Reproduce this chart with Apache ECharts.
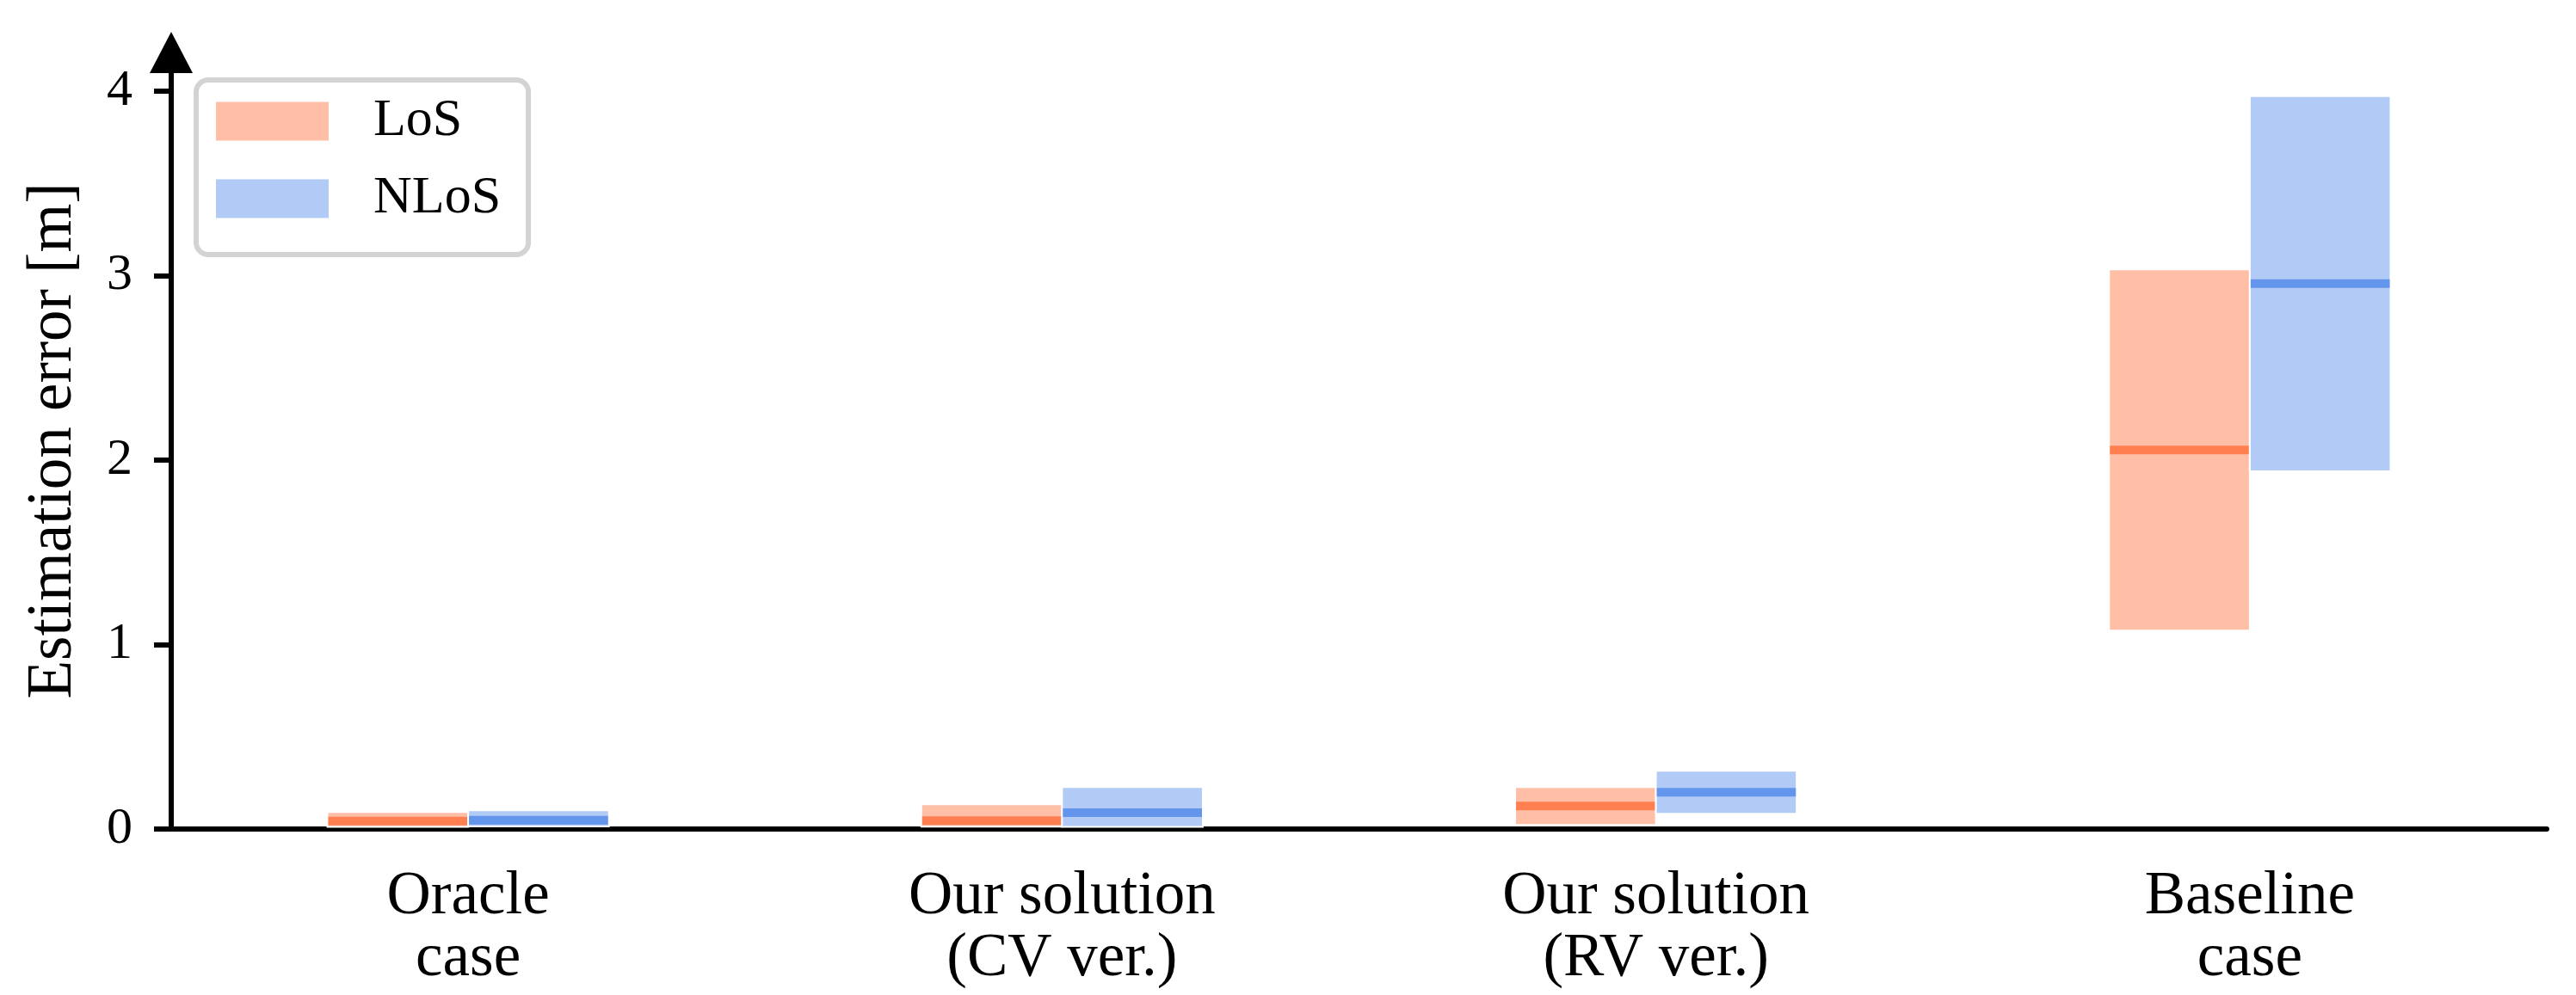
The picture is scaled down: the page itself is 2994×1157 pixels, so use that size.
<!DOCTYPE html>
<html>
<head>
<meta charset="utf-8">
<script src="https://cdn.jsdelivr.net/npm/echarts@6/dist/echarts.min.js"></script>
<style>
  html, body { margin: 0; padding: 0; background: #fff; }
  #chart { width: 2994px; height: 1157px; }
</style>
</head>
<body>
<div id="chart"></div>
<script>
// categories on the x axis
const categories = ["Oracle\ncase", "Our solution\n(CV ver.)", "Our solution\n(RV ver.)", "Baseline\ncase"];
const yTicks = [0, 1, 2, 3, 4];

// box values per category: lower quartile, median, upper quartile
const losQ1 = [0.012, 0.013, 0.022, 1.076];
const losMed = [0.043, 0.046, 0.125, 2.055];
const losQ3 = [0.092, 0.134, 0.227, 3.034];

const nlosQ1 = [0.014, 0.012, 0.083, 1.94];
const nlosMed = [0.048, 0.089, 0.199, 2.957];
const nlosQ3 = [0.101, 0.227, 0.316, 3.973];

const FONT = "'Liberation Serif', 'DejaVu Serif', serif";

function rows(q1, med, q3) {
  return categories.map((c, i) => [i, q1[i], med[i], q3[i]]);
}

function boxRenderer(side, medColor) {
  return function (params, api) {
    const cat = api.value(0);
    const band = api.size([1, 0])[0];
    const w = band * 0.237;
    const cx = api.coord([cat, 0])[0];
    const x0 = side < 0 ? cx - w : cx;
    const yTop = api.coord([cat, api.value(3)])[1];
    const yBot = api.coord([cat, api.value(1)])[1];
    const yMed = api.coord([cat, api.value(2)])[1];
    return {
      type: "group",
      children: [
        {
          type: "rect",
          shape: { x: x0, y: yTop, width: w, height: yBot - yTop },
          style: { fill: api.visual("color"), stroke: "#fff", lineWidth: 2 }
        },
        {
          type: "line",
          shape: { x1: x0 + 1, y1: yMed, x2: x0 + w - 1, y2: yMed },
          style: { stroke: medColor, lineWidth: 10 }
        }
      ]
    };
  };
}

const chart = echarts.init(document.getElementById("chart"));
chart.setOption({
  animation: false,
  backgroundColor: "#fff",
  grid: { left: 199, right: 34, top: 61, bottom: 193 },
  legend: {
    orient: "vertical",
    left: 228,
    top: 93,
    icon: "rect",
    itemWidth: 131,
    itemHeight: 45,
    itemGap: 28,
    padding: [17, 32, 34, 23],
    borderColor: "#d3d3d3",
    borderWidth: 6,
    borderRadius: 14,
    backgroundColor: "#fff",
    textStyle: { fontFamily: FONT, fontSize: 62, color: "#000", lineHeight: 62, padding: [0, 0, 0, 47] },
    data: ["LoS", "NLoS"]
  },
  xAxis: {
    type: "category",
    data: categories,
    boundaryGap: true,
    axisLine: { lineStyle: { color: "#000", width: 6 } },
    axisTick: { alignWithLabel: true, length: 20, lineStyle: { color: "#000", width: 6 } },
    axisLabel: { fontFamily: FONT, fontSize: 71, color: "#000", lineHeight: 72, margin: 43 },
    splitLine: { show: false }
  },
  yAxis: {
    type: "value",
    min: 0,
    max: 4.21,
    name: "Estimation error [m]",
    nameLocation: "middle",
    nameGap: 100,
    nameTextStyle: { fontFamily: FONT, fontSize: 73, color: "#000" },
    axisLine: {
      show: true,
      symbol: ["none", "triangle"],
      symbolSize: [50, 48],
      lineStyle: { color: "#000", width: 6 }
    },
    axisTick: { show: true, length: 20, customValues: yTicks, lineStyle: { color: "#000", width: 6 } },
    axisLabel: { fontFamily: FONT, fontSize: 60, color: "#000", margin: 45, customValues: yTicks },
    splitLine: { show: false }
  },
  series: [
    {
      name: "LoS",
      type: "custom",
      itemStyle: { color: "#FFBFA7" },
      renderItem: boxRenderer(-1, "#FF7F50"),
      encode: { x: 0, y: [1, 2, 3] },
      data: rows(losQ1, losMed, losQ3)
    },
    {
      name: "NLoS",
      type: "custom",
      itemStyle: { color: "#B1CAF6" },
      renderItem: boxRenderer(1, "#6495ED"),
      encode: { x: 0, y: [1, 2, 3] },
      data: rows(nlosQ1, nlosMed, nlosQ3)
    }
  ]
});
</script>
</body>
</html>
